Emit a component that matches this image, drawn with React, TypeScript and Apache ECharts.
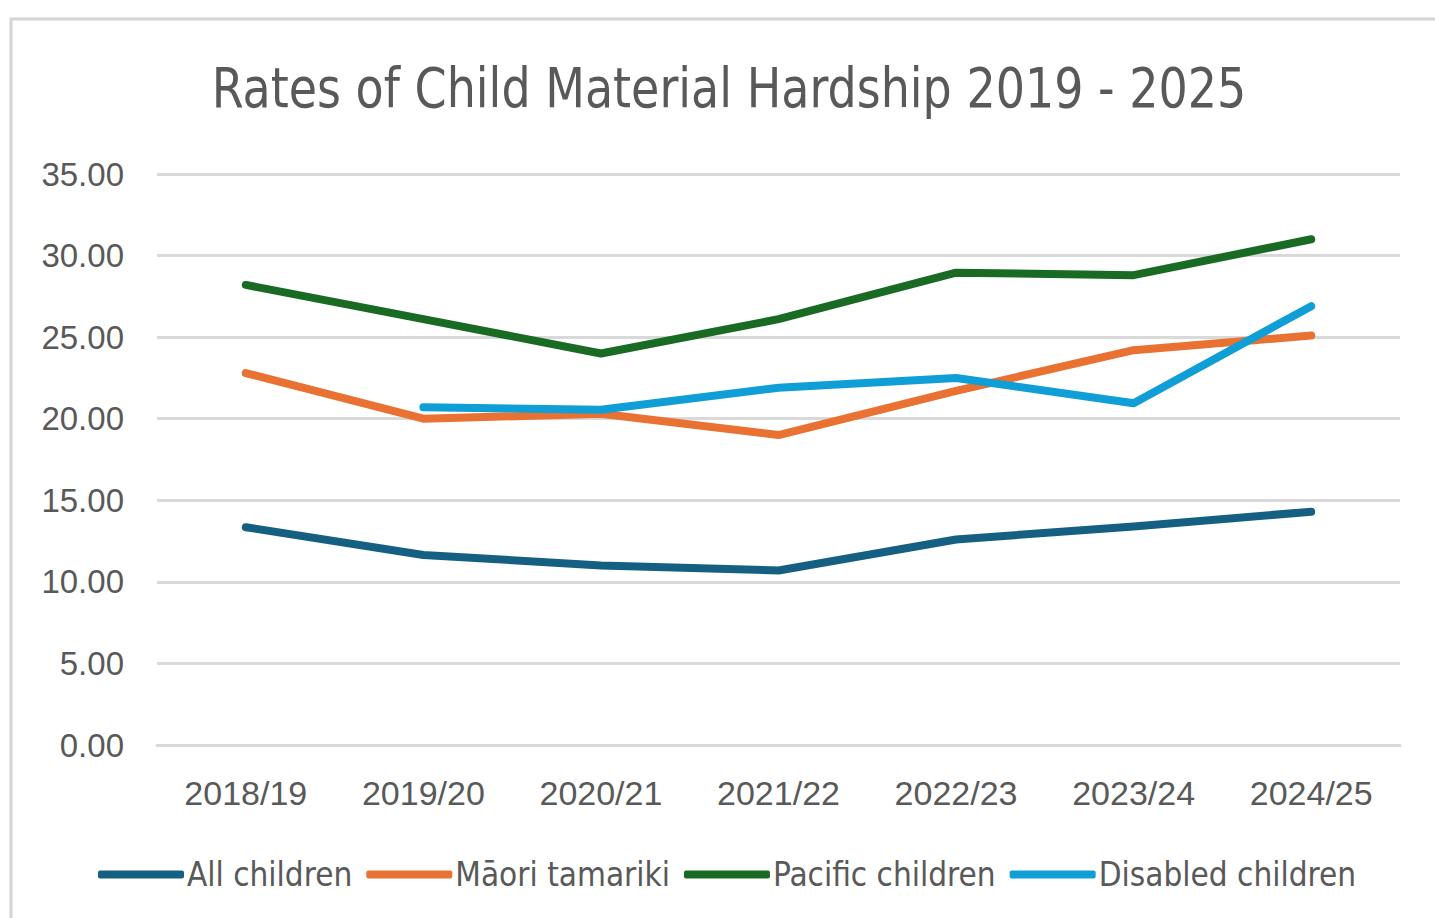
import React, { useEffect, useRef } from "react";
import * as echarts from "echarts";

const categories = ["2018/19", "2019/20", "2020/21", "2021/22", "2022/23", "2023/24", "2024/25"];
const allChildren = [13.35, 11.65, 11.0, 10.7, 12.6, 13.4, 14.3];
const maoriTamariki = [22.8, 20.0, 20.3, 19.0, 21.7, 24.2, 25.1];
const pacificChildren = [28.2, 26.1, 24.0, 26.1, 28.95, 28.8, 31.0];
const disabledChildren = [null, 20.7, 20.55, 21.9, 22.5, 20.95, 26.9];
const titleText = "Rates of Child Material Hardship 2019 - 2025";

const narrow = "'DejaVu Sans Condensed', 'Roboto', sans-serif";
const regular = "'Liberation Sans', Arial, sans-serif";

export default function App() {
  const ref = useRef<HTMLDivElement>(null);
  useEffect(() => {
    if (!ref.current) return;
    const chart = echarts.init(ref.current, null, { renderer: "svg" });
    const mk = (name: string, data: (number | null)[], color: string) => ({
      name,
      type: "line",
      data,
      showSymbol: false,
      symbol: "none",
      connectNulls: false,
      color,
      lineStyle: { width: 8, color, cap: "round", join: "round" },
    });
    chart.setOption({
      animation: false,
      backgroundColor: "#ffffff",
      graphic: [
        {
          type: "polyline",
          shape: { points: [[11, 940], [11, 19], [1440, 19]] },
          style: { stroke: "#d4d4d4", lineWidth: 3, fill: "none" },
          silent: true,
        },
        {
          type: "text",
          x: 729,
          y: 88,
          scaleX: 0.93,
          style: {
            text: titleText,
            fontFamily: narrow,
            fontSize: 55,
            fill: "#595959",
            textAlign: "center",
            textVerticalAlign: "middle",
          },
          silent: true,
        },
      ],
      legend: {
        bottom: 22,
        left: 93,
        icon: "roundRect",
        itemWidth: 86,
        itemHeight: 8,
        itemGap: 14,
        textStyle: { fontFamily: narrow, fontSize: 33, color: "#595959", padding: [0, 0, 0, -2] },
        data: ["All children", "Māori tamariki", "Pacific children", "Disabled children"],
      },
      grid: { left: 157, right: 35, top: 174, bottom: 173, containLabel: false },
      xAxis: {
        type: "category",
        data: categories,
        boundaryGap: true,
        axisLine: { lineStyle: { color: "#d9d9d9", width: 3 } },
        axisTick: { show: false },
        axisLabel: { fontFamily: regular, fontSize: 34, color: "#595959", margin: 31 },
      },
      yAxis: {
        type: "value",
        min: 0,
        max: 35,
        interval: 5,
        axisLine: { show: false },
        axisTick: { show: false },
        splitLine: { lineStyle: { color: "#d9d9d9", width: 3 } },
        axisLabel: {
          fontFamily: regular,
          fontSize: 33,
          color: "#595959",
          margin: 33,
          formatter: (v: number) => v.toFixed(2),
        },
      },
      series: [
        mk("All children", allChildren, "#156082"),
        mk("Māori tamariki", maoriTamariki, "#E97132"),
        mk("Pacific children", pacificChildren, "#196B24"),
        mk("Disabled children", disabledChildren, "#0F9ED5"),
      ],
    });
    return () => chart.dispose();
  }, []);
  return (
    <div
      ref={ref}
      style={{ position: "fixed", left: 0, top: 0, width: 1435, height: 918, background: "#fff" }}
    />
  );
}
